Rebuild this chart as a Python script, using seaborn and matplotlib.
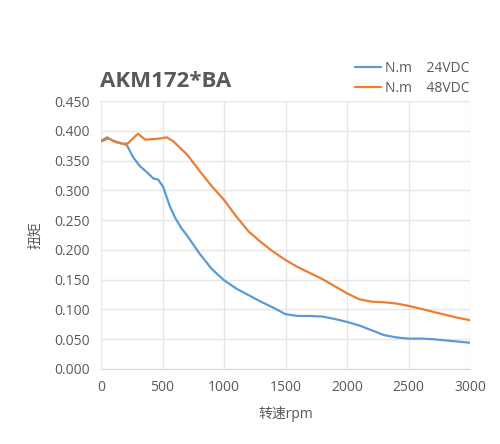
import numpy as np
import pandas as pd
import matplotlib
matplotlib.use('Agg')
import matplotlib.pyplot as plt
import seaborn as sns

# datos
rpm_24 = [0, 50, 100, 150, 210, 260, 315, 370, 425, 465, 505, 560, 600, 655, 700, 800, 900, 1000,
          1100, 1200, 1300, 1400, 1500, 1600, 1700, 1800, 1900, 2000, 2100, 2200, 2300, 2400,
          2500, 2600, 2700, 2800, 2900, 3000]
par_24 = [0.383, 0.389, 0.383, 0.380, 0.376, 0.356, 0.341, 0.331, 0.320, 0.318, 0.306, 0.273,
          0.255, 0.236, 0.224, 0.194, 0.168, 0.149, 0.135, 0.124, 0.113, 0.103, 0.092, 0.089,
          0.089, 0.088, 0.084, 0.079, 0.073, 0.065, 0.057, 0.053, 0.051, 0.051, 0.050, 0.048,
          0.046, 0.044]

rpm_48 = [0, 60, 120, 180, 220, 260, 300, 360, 420, 480, 535, 590, 700, 800, 900, 1000, 1100,
          1200, 1300, 1400, 1500, 1600, 1700, 1800, 1900, 2000, 2100, 2200, 2300, 2400, 2500,
          2600, 2700, 2800, 2900, 3000]
par_48 = [0.382, 0.387, 0.381, 0.378, 0.379, 0.387, 0.395, 0.385, 0.386, 0.387, 0.389, 0.382,
          0.360, 0.333, 0.307, 0.284, 0.256, 0.231, 0.213, 0.197, 0.183, 0.171, 0.161, 0.151,
          0.139, 0.127, 0.117, 0.113, 0.112, 0.110, 0.106, 0.101, 0.096, 0.091, 0.086, 0.082]

etiquetas = ['N.m    24VDC', 'N.m    48VDC']
colores = ['#5B9BD5', '#ED7D31']
titulo = 'AKM172*BA'

sns.set_style('white')
plt.rcParams['font.family'] = ['Open Sans', 'Noto Sans CJK SC', 'DejaVu Sans']

fig = plt.figure(figsize=(5, 4.44), dpi=100)
ax = fig.add_axes([0.202, 0.169, 0.738, 0.6035])

df24 = pd.DataFrame({'rpm': rpm_24, 'par': par_24})
df48 = pd.DataFrame({'rpm': rpm_48, 'par': par_48})
sns.lineplot(data=df24, x='rpm', y='par', color=colores[0], linewidth=1.6, label=etiquetas[0], ax=ax)
sns.lineplot(data=df48, x='rpm', y='par', color=colores[1], linewidth=1.6, label=etiquetas[1], ax=ax)

ax.set_xlim(0, 3000)
ax.set_ylim(0, 0.45)
ax.set_xticks(np.arange(0, 3001, 500))
ax.set_yticks(np.arange(0, 0.451, 0.05))
ax.yaxis.set_major_formatter(matplotlib.ticker.FormatStrFormatter('%.3f'))
ax.grid(True, color='#E6E6E6', linewidth=1)
ax.set_axisbelow(True)
for s in ['top', 'right', 'left']:
    ax.spines[s].set_visible(False)
ax.spines['bottom'].set_color('#D9D9D9')
ax.tick_params(axis='both', length=0, labelsize=10, labelcolor='#595959', pad=8)

ax.set_xlabel('转速rpm', fontsize=10, color='#595959', labelpad=8)
ax.set_ylabel('扭矩', fontsize=10, color='#595959', labelpad=8)

fig.text(0.2, 0.805, titulo, fontsize=16, fontweight='bold', color='#595959')

leg = ax.legend(loc='lower right', bbox_to_anchor=(1.015, 0.998), frameon=False, fontsize=10,
                handlelength=1.9, handletextpad=0.3, labelspacing=0.35, borderaxespad=0)
for t in leg.get_texts():
    t.set_color('#595959')

fig.savefig('out.png', dpi=100)
